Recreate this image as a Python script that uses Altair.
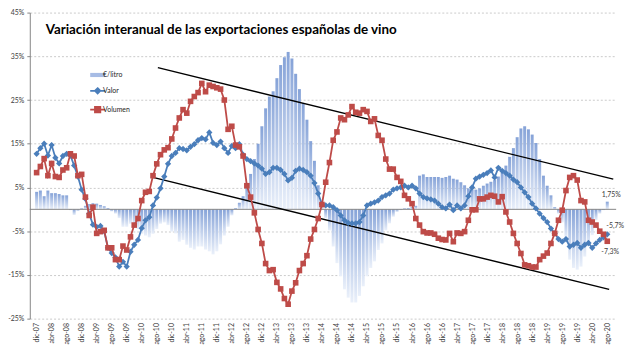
import json
import altair as alt
import pandas as pd

# ---------------- data ----------------
tick_labels = [
    "dic-07", "abr-08", "ago-08", "dic-08", "abr-09", "ago-09", "dic-09", "abr-10", "ago-10",
    "dic-10", "abr-11", "ago-11", "dic-11", "abr-12", "ago-12", "dic-12", "abr-13", "ago-13",
    "dic-13", "abr-14", "ago-14", "dic-14", "abr-15", "ago-15", "dic-15", "abr-16", "ago-16",
    "dic-16", "abr-17", "ago-17", "dic-17", "abr-18", "ago-18", "dic-18", "abr-19", "ago-19",
    "dic-19", "abr-20", "ago-20",
]

eur_litro = [
    4.0, 4.3, 3.0, 4.3, 3.7, 3.7, 3.5, 3.2, 3.2, -0.2,
    -1.3, -0.4, 0.2, 0.8, 1.2, 1.4, 1.3, 1.0, 0.7, 0.3,
    -0.5, -1.0, -2.0, -4.0, -4.0, -3.3, -3.7, -4.5, -5.6, -6.0,
    -6.4, -5.6, -4.5, -3.3, -3.0, -3.6, -5.1, -5.5, -7.4, -7.0,
    -8.1, -8.8, -9.2, -8.5, -8.5, -9.2, -9.6, -10.3, -9.6, -8.0,
    -6.0, -4.0, -1.4, 0.3, 1.5, 3.0, 5.0, 8.1, 11.5, 15.0,
    19.0, 23.1, 25.8, 27.0, 30.0, 33.0, 34.8, 36.0, 34.5, 31.0,
    27.5, 24.3, 20.5, 15.6, 11.1, 5.5, 1.0, -2.1, -4.8, -8.5,
    -12.3, -15.3, -18.3, -20.2, -21.3, -21.3, -19.8, -17.6, -15.3, -13.4,
    -11.9, -9.3, -7.8, -4.8, -3.2, -1.7, -0.6, -0.2, 0.2, 0.3,
    0.5, 0.8, 7.7, 8.0, 7.4, 7.4, 7.4, 7.4, 7.2, 7.4,
    7.7, 7.0, 6.8, 6.2, 5.5, 4.8, 4.5, 4.5, 4.8, 5.4,
    5.9, 6.3, 6.7, 7.5, 8.4, 10.0, 12.0, 14.0, 16.5, 18.5,
    19.0, 18.3, 17.1, 15.2, 11.5, 7.7, 5.4, 3.2, 0.5, -1.0,
    -3.0, -6.6, -11.5, -13.4, -13.8, -13.1, -10.8, -8.5, -5.9, -2.5,
    -1.0, -0.2, 1.75,
]

valor = [
    12.7, 14.0, 15.0, 12.3, 14.7, 11.8, 10.5, 12.2, 12.7, 12.3,
    10.0, 7.5, 4.5, 2.4, -1.0, -3.5, -4.0, -3.8, -5.0, -8.8,
    -10.0, -11.0, -13.1, -12.0, -13.1, -9.7, -8.1, -7.0, -4.3, -2.5,
    -1.8, 0.9, 2.7, 4.8, 7.5, 10.4, 12.2, 12.9, 14.0, 13.8,
    13.5, 14.3, 14.9, 15.8, 16.3, 16.0, 17.6, 15.2, 14.7, 15.5,
    14.0, 12.9, 14.5, 14.0, 14.9, 12.5, 11.5, 11.0, 10.5, 10.0,
    9.3, 8.1, 8.5, 9.5, 9.5, 9.0, 8.1, 6.6, 7.2, 8.8,
    9.3, 9.0, 8.5, 7.7, 6.0, 3.6, 1.2, 0.9, 0.9, 0.5,
    -0.2, -1.4, -2.5, -3.1, -3.2, -3.2, -2.9, -1.4, 0.9, 1.3,
    1.6, 2.0, 2.8, 3.2, 3.6, 4.5, 4.8, 5.0, 5.4, 5.0,
    5.4, 4.8, 3.6, 2.8, 2.5, 2.3, 2.0, 1.3, 0.5, 0.2,
    1.1, -0.2, 0.9, 0.2, 0.9, 3.0, 5.0, 7.0, 7.5, 7.9,
    8.3, 8.9, 7.3, 9.5, 8.8, 8.3, 7.7, 6.8, 6.2, 5.0,
    3.9, 2.8, 1.3, 0.2, -1.0, -2.0, -2.9, -4.4, -5.5, -6.8,
    -7.4, -6.8, -8.5, -8.1, -7.7, -8.8, -8.1, -7.7, -8.8, -7.8,
    -7.0, -6.4, -5.7,
]

volumen = [
    8.4, 9.8, 11.6, 7.7, 10.5, 7.5, 7.3, 9.0, 9.5, 12.7,
    12.2, 7.7, 8.0, 2.8, -1.4, 0.5, -5.5, -5.1, -4.8, -8.8,
    -8.8, -11.5, -11.5, -8.4, -9.3, -6.3, -3.6, -2.1, 2.0, 3.9,
    4.1, 7.7, 10.4, 12.5, 13.6, 14.1, 16.1, 18.6, 20.9, 22.8,
    22.0, 24.7, 25.8, 26.7, 28.8, 26.9, 28.4, 28.1, 27.8, 27.5,
    25.0, 18.3, 19.0, 14.7, 14.3, 12.2, 5.4, 2.8, -0.8, -4.6,
    -7.8, -12.4, -14.0, -13.8, -16.7, -18.2, -20.4, -21.7, -18.7, -16.8,
    -14.0, -12.4, -10.6, -6.8, -4.6, -2.1, 1.1, 6.2, 10.7, 15.8,
    17.7, 20.9, 20.5, 21.6, 23.5, 22.2, 22.0, 22.8, 22.4, 20.1,
    20.7, 16.9, 15.8, 11.5, 9.2, 9.2, 7.3, 6.4, 3.2, 2.4,
    1.3, -2.1, -3.6, -5.1, -5.4, -5.4, -5.7, -6.6, -6.9, -7.0,
    -5.5, -7.4, -5.4, -5.5, -5.1, -2.5, -0.1, -0.1, 2.4, 2.4,
    2.8, 3.2, 3.0, 1.7, 2.9, -0.6, -2.9, -5.5, -7.8, -10.1,
    -12.7, -12.9, -13.2, -13.2, -11.5, -10.7, -10.0, -7.8, -5.5, -2.5,
    -0.2, 4.3, 7.3, 7.7, 6.7, 2.0, 1.7, -2.5, -2.9, -3.6,
    -5.0, -5.7, -7.3,
]

# channel (trend) lines: start / end, in month index and %
trend_upper_i = [32.3, 153.6]
trend_upper_v = [32.4, 6.9]
trend_lower_i = [31.0, 152.5]
trend_lower_v = [7.3, -18.3]

end_labels = ["1,75%", "-5,7%", "-7,3%"]
series_names = ["€/litro", "Valor", "Volumen"]
title_text = "Variación interanual de las exportaciones españolas de vino"

# ---------------- tables ----------------
n = len(valor)
df = pd.DataFrame({"i": list(range(n)), "eur": eur_litro, "valor": valor, "volumen": volumen})
trend_df = pd.DataFrame({
    "i": trend_upper_i + trend_lower_i,
    "v": trend_upper_v + trend_lower_v,
    "linea": ["sup", "sup", "inf", "inf"],
})
title_df = pd.DataFrame({"t": [title_text]})

FONT = "Lato"
TXT = "#404040"
BLUE = "#4a7ebb"
RED = "#be4b48"
PALE = "#a7bce5"

x_scale = alt.Scale(domain=[-0.5, 153.05], nice=False, zero=False)
y_scale = alt.Scale(domain=[-25, 45], nice=False, zero=False)

x_axis = alt.Axis(
    values=list(range(0, n, 4)),
    labelExpr=json.dumps(tick_labels) + "[round(datum.value / 4)]",
    labelAngle=270, labelFont=FONT, labelFontSize=7, labelColor=TXT,
    labelPadding=4, labelFlush=False, labelOverlap=False, labelBound=False,
    grid=False, domain=False, ticks=False, title=None,
)
y_axis = alt.Axis(
    values=[-25, -15, -5, 5, 15, 25, 35, 45],
    labelExpr="datum.value + '%'",
    labelFont=FONT, labelFontSize=7, labelColor=TXT, labelPadding=3,
    grid=True, gridDash=[2, 2], gridColor="#bdbdbd", gridWidth=0.8,
    domain=True, domainColor="#868686", ticks=True, tickColor="#868686", tickSize=3,
    title=None,
)

def X(field="i"):
    return alt.X(f"{field}:Q", scale=x_scale, axis=x_axis)

def Y(field):
    return alt.Y(f"{field}:Q", scale=y_scale, axis=y_axis)

color_scale = alt.Scale(domain=series_names, range=[PALE, BLUE, RED])
shape_expr = (
    "datum.value === 'Valor' ? 'M-1,0H1M0,-0.36L0.36,0L0,0.36L-0.36,0Z' : "
    "datum.value === 'Volumen' ? 'M-1,0H1M-0.36,-0.36H0.36V0.36H-0.36Z' : "
    "'M-1,-0.28H1V0.28H-1Z'"
)
stroke_expr = ("datum.value === 'Valor' ? '" + BLUE + "' : datum.value === 'Volumen' ? '"
               + RED + "' : '" + PALE + "'")
sw_expr = "datum.value === 'Valor' || datum.value === 'Volumen' ? 1.8 : 0"

legend = alt.Legend(
    title=None, orient="none", legendX=65, legendY=59.5, direction="vertical",
    labelFont=FONT, labelFontSize=7, labelColor="#262626", labelOffset=2,
    symbolSize=225, rowPadding=6, padding=0, symbolOpacity=1,
    symbolType=alt.ExprRef(expr=shape_expr),
    symbolFillColor=alt.ExprRef(expr=stroke_expr),
    symbolStrokeColor=alt.ExprRef(expr=stroke_expr),
    symbolStrokeWidth=alt.ExprRef(expr=sw_expr),
)
color_enc = alt.Color("serie:N", scale=color_scale, legend=legend)

base = alt.Chart(df)

bar_gradient = {
    "gradient": "linear", "x1": 0, "y1": 0, "x2": 0, "y2": 1,
    "stops": [{"offset": 0, "color": "#86a3d8"}, {"offset": 1, "color": "#eaf0fa"}],
}
bars = base.mark_bar(size=3, fill=bar_gradient, orient="vertical").encode(
    x=X(), y=Y("eur"), y2=alt.datum(0)
)

zero_rule = base.transform_filter("datum.i == 0").mark_rule(
    color="#868686", strokeWidth=1
).encode(y=alt.Y(datum=0, scale=y_scale, axis=y_axis))

valor_line = base.mark_line(strokeWidth=1.8, color=BLUE).encode(x=X(), y=Y("valor"))
valor_pts = base.transform_calculate(serie="'Valor'").mark_point(
    shape="diamond", filled=True, size=40, opacity=1
).encode(x=X(), y=Y("valor"), color=color_enc)

volumen_line = base.mark_line(strokeWidth=1.8, color=RED).encode(x=X(), y=Y("volumen"))
volumen_pts = base.transform_calculate(serie="'Volumen'").mark_point(
    shape="square", filled=True, size=32, opacity=1
).encode(x=X(), y=Y("volumen"), color=color_enc)

trends = alt.Chart(trend_df).mark_line(color="black", strokeWidth=1.4).encode(
    x=X(), y=Y("v"), detail="linea:N"
)

last = base.transform_filter(f"datum.i == {n - 1}")
lab_eur = last.mark_text(font=FONT, fontSize=7, color=TXT, dx=4, dy=-7).encode(
    x=X(), y=Y("eur"), text=alt.value(end_labels[0]))
lab_val = last.mark_text(font=FONT, fontSize=7, color=TXT, dx=8, dy=-8).encode(
    x=X(), y=Y("valor"), text=alt.value(end_labels[1]))
lab_vol = last.mark_text(font=FONT, fontSize=7, color=TXT, dx=3, dy=11).encode(
    x=X(), y=Y("volumen"), text=alt.value(end_labels[2]))

title = alt.Chart(title_df).mark_text(
    font=FONT, fontSize=13.5, fontWeight="bold", color="black", align="left",
    baseline="alphabetic",
).encode(x=alt.value(16), y=alt.value(22), text="t:N")

chart = alt.layer(
    bars, zero_rule, trends, valor_line, valor_pts, volumen_line, volumen_pts,
    lab_eur, lab_val, lab_vol, title,
).properties(
    width=592, height=309,
    autosize=alt.AutoSizeParams(type="none"),
    padding={"left": 22, "top": 3, "right": 16, "bottom": 27},
    background="white",
).configure_view(stroke=None)

chart.save("out.html", embed_options={"renderer": "svg", "actions": False})
